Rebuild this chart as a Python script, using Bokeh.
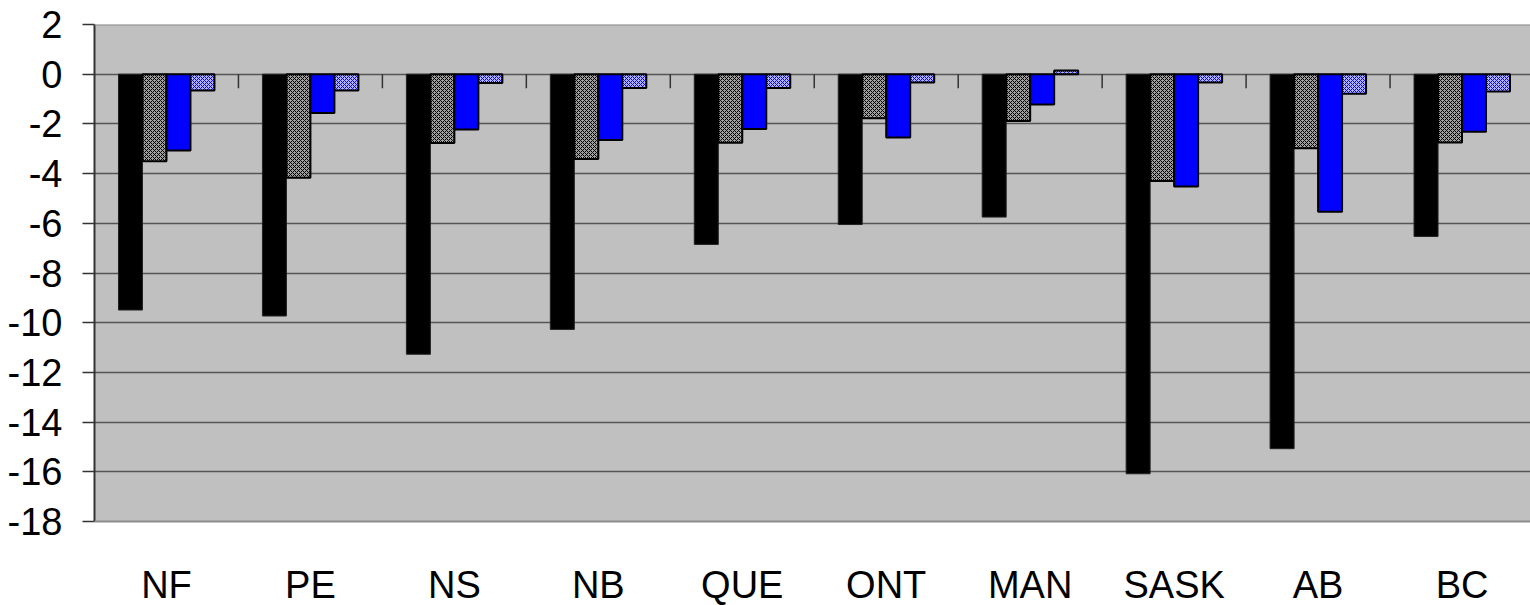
from bokeh.plotting import figure
from bokeh.models import Range1d, FixedTicker, BoxAnnotation, Span, ColumnDataSource
from bokeh.core.properties import value
from bokeh.embed import file_html
from bokeh.resources import INLINE

# ---- data ----
provinces = ["NF", "PE", "NS", "NB", "QUE", "ONT", "MAN", "SASK", "AB", "BC"]
series_black = [-9.49, -9.73, -11.27, -10.27, -6.85, -6.05, -5.75, -16.08, -15.07, -6.53]
series_grey = [-3.50, -4.17, -2.77, -3.41, -2.76, -1.77, -1.88, -4.30, -2.98, -2.75]
series_blue = [-3.07, -1.56, -2.23, -2.65, -2.21, -2.55, -1.22, -4.52, -5.54, -2.32]
series_light = [-0.66, -0.66, -0.35, -0.56, -0.56, -0.33, 0.15, -0.33, -0.79, -0.70]
y_ticks = [-18, -16, -14, -12, -10, -8, -6, -4, -2, 0, 2]

# ---- layout ----
FONT = "Liberation Sans"
FS = "38px"
W, H = 1530, 605
LEFT, TOP = 94, 24
frame_w = W - LEFT
frame_h = H - TOP
y_max, y_min = max(y_ticks), min(y_ticks)
px_per_unit = 497.0 / (y_max - y_min)
cat_px = 143.95
y_lo = y_max - frame_h / px_per_unit
x_end = frame_w / cat_px

p = figure(width=W, height=H, output_backend="svg", toolbar_location=None,
           x_range=Range1d(0, x_end), y_range=Range1d(y_lo, y_max),
           x_axis_location=None,
           min_border_left=LEFT, min_border_top=TOP,
           min_border_right=0, min_border_bottom=0)
p.outline_line_color = None
p.background_fill_color = "white"
p.border_fill_color = "white"

band = BoxAnnotation(bottom=y_min, top=y_max, fill_color="#c0c0c0", fill_alpha=1.0,
                     line_color=None, level="image")
p.add_layout(band)

p.xgrid.visible = False
p.ygrid.ticker = FixedTicker(ticks=[t for t in y_ticks if y_min < t < y_max])
p.ygrid.grid_line_color = "#555555"
p.ygrid.grid_line_width = 1.3

for loc in (y_min, y_max):
    p.add_layout(Span(location=loc, dimension="width", line_color="#8c8c8c", line_width=2))

ax = p.yaxis[0]
ax.ticker = FixedTicker(ticks=y_ticks)
ax.bounds = (y_min, y_max)
ax.major_label_overrides = {t: str(t) for t in y_ticks}
ax.major_tick_in = 0
ax.major_tick_out = 12
ax.minor_tick_line_color = None
ax.major_tick_line_color = "#333333"
ax.major_tick_line_width = 1.5
ax.axis_line_color = "#333333"
ax.axis_line_width = 2
ax.major_label_standoff = 20
ax.major_label_text_font = FONT
ax.major_label_text_font_size = FS
ax.major_label_text_color = "black"

# tick marks on zero line at category boundaries
n = len(provinces)
bounds_x = list(range(1, n + 1))
tick_len = 14 / px_per_unit
p.segment(x0=bounds_x, y0=[0] * len(bounds_x), x1=bounds_x, y1=[-tick_len] * len(bounds_x),
          line_color="#333333", line_width=1.5)

bw = 1.0 / 6
def xs(k):
    return [i + 0.5 + (k - 1.5) * bw for i in range(n)]

p.vbar(x=xs(0), top=series_black, bottom=0, width=bw, fill_color="black",
       line_color="#222222", line_width=1)
p.vbar(x=xs(1), top=series_grey, bottom=0, width=bw, fill_color="#a0a0a0",
       hatch_pattern="diagonal_cross", hatch_color="black", hatch_scale=4, hatch_weight=1,
       line_color="black", line_width=2)
p.vbar(x=xs(2), top=series_blue, bottom=0, width=bw, fill_color="#0000ff",
       line_color="black", line_width=2)
p.vbar(x=xs(3), top=series_light, bottom=0, width=bw, fill_color="#b3b3ff",
       hatch_pattern="diagonal_cross", hatch_color="#0000ff", hatch_scale=4, hatch_weight=1,
       line_color="black", line_width=2)

# category labels under the plot area
lab = ColumnDataSource(dict(x=[i + 0.5 for i in range(n)], y=[y_min] * n, t=provinces))
p.text(x="x", y="y", text="t", source=lab, text_align="center", text_baseline="alphabetic",
       y_offset=63, text_font=value(FONT), text_font_size=FS, text_color="black")

open("out.html", "w").write(file_html(p, INLINE))
